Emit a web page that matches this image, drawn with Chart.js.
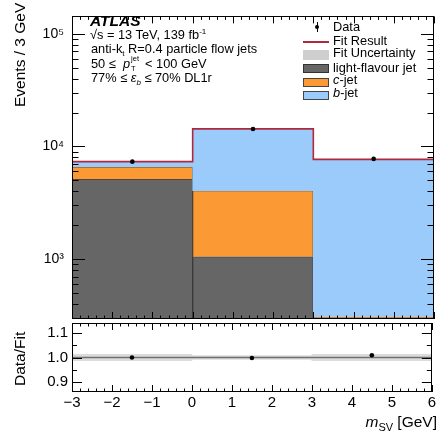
<!DOCTYPE html>
<html><head><meta charset="utf-8">
<script src="https://cdn.jsdelivr.net/npm/chart.js@4.4.0/dist/chart.umd.min.js"></script>
<style>
html,body{margin:0;padding:0;background:#fff;}
#wrap{position:relative;width:438px;height:431px;overflow:hidden;font-family:'Liberation Sans',Arial,sans-serif;color:#000;}
canvas{position:absolute;left:0;top:0;}
.t{position:absolute;white-space:nowrap;font-size:12.8px;line-height:14px;}
sup,sub{font-size:8px;line-height:0;position:relative;vertical-align:baseline;}
sup{top:-5px;} sub{top:3px;}
.ss{display:inline-block;position:relative;width:15px;height:10px;}
.ss span{position:absolute;left:1px;font-size:7.5px;line-height:8px;}
.yt{position:absolute;writing-mode:vertical-rl;transform:rotate(180deg);font-size:15.5px;line-height:18px;width:18px;white-space:nowrap;text-align:end;}
.box{position:absolute;left:303px;width:26px;box-sizing:border-box;}
</style></head>
<body><div id="wrap">
<canvas id="main" width="438" height="431"></canvas>
<canvas id="ratio" width="438" height="431"></canvas>

<div class="t" style="left:90px;top:13px;font:italic bold 15.5px/16px 'Liberation Sans',Arial,sans-serif;">ATLAS</div>
<div class="t" style="left:90px;top:28px;">√s = 13 TeV, 139 fb<sup>-1</sup></div>
<div class="t" style="left:91px;top:42px;">anti-k<sub>t</sub> R=0.4 particle flow jets</div>
<div class="t" style="left:91px;top:56.5px;">50 ≤ &nbsp;<i>p</i><span class="ss"><span style="top:-3px">jet</span><span style="top:7px">T</span></span>&lt; 100 GeV</div>
<div class="t" style="left:91px;top:71px;">77% ≤ <i>ε</i><sub><i>b</i></sub> ≤ 70% DL1r</div>

<div style="position:absolute;left:316.5px;top:22px;width:1px;height:10px;background:#000"></div>
<div style="position:absolute;left:315px;top:25px;width:4px;height:4px;border-radius:2px;background:#000"></div>
<div class="t" style="left:333px;top:20px;">Data</div>
<div style="position:absolute;left:303px;top:41px;width:26px;height:1.6px;background:#b0283c"></div>
<div class="t" style="left:333px;top:34px;">Fit Result</div>
<div class="box" style="top:50px;height:10px;background:#cfcfcf"></div>
<div class="t" style="left:333px;top:46.3px;">Fit Uncertainty</div>
<div class="box" style="top:64px;height:9px;background:#666;border:1px solid #333"></div>
<div class="t" style="left:333px;top:60.7px;">light-flavour jet</div>
<div class="box" style="top:77.5px;height:9px;background:#fb9a35;border:1px solid #444"></div>
<div class="t" style="left:333px;top:73px;"><i>c</i>-jet</div>
<div class="box" style="top:91px;height:9px;background:#9acbfb;border:1px solid #444"></div>
<div class="t" style="left:333px;top:86.3px;"><i>b</i>-jet</div>

<div class="yt" style="left:11px;top:3px;height:108px;">Events / 3 GeV</div>
<div class="yt" style="left:11px;top:323px;height:72px;text-align:center;">Data/Fit</div>
<div style="position:absolute;right:1px;top:413px;font-size:15.5px;line-height:18px;white-space:nowrap;"><i>m</i><sub style="font-size:11px;top:4px">SV</sub> [GeV]</div>
</div>
<script>
// ---- data ----
const binEdges = [-3, 0, 3, 6];
const binCenters = [-1.5, 1.5, 4.5];
const lightJet = [5120, 1055, 250];
const cJet = [1490, 3010, 60];
const bJet = [730, 10265, 7380];
const fitResult = [7340, 14330, 7690];
const dataValues = [7340, 14300, 7760];
const ratioValues = [1.0, 0.998, 1.009];
const fitUncRel = [0.013, 0.008, 0.013];
// ---- tick labels ----
const xMajorTicks = [-3, -2, -1, 0, 1, 2, 3, 4, 5, 6];
const mainYMajorTicks = [1e3, 1e4, 1e5];
const ratioYMajorTicks = [0.9, 1.0, 1.1];

const FONT = "'Liberation Sans', Arial, sans-serif";
const SUP = {'3':'³','4':'⁴','5':'⁵'};

// minor tick positions
const xMinor = [];
for (let i = -15; i <= 30; i++) { if (i % 5 !== 0) xMinor.push(i / 5); }
const logMinor = [];
[100, 1000, 10000].forEach(d => { for (let k = 2; k <= 9; k++) logMinor.push(k * d); });
const ratioMinor = [0.95, 1.05];

const frameTicks = {
  id: 'frameTicks',
  afterDatasetsDraw(chart, args, o) {
    const {ctx, chartArea: a, scales} = chart;
    const xs = scales.x, ys = scales.y;
    const px = v => Math.round(v) + 0.5;
    ctx.save();
    ctx.strokeStyle = '#000'; ctx.lineWidth = 1;
    ctx.beginPath();
    const xt = xMajorTicks.map(v => [v, o.xMaj]).concat(xMinor.map(v => [v, o.xMin]));
    xt.forEach(([v, len]) => {
      const x = px(xs.getPixelForValue(v));
      if (x < a.left || x > a.right + 1) return;
      ctx.moveTo(x, a.bottom); ctx.lineTo(x, a.bottom - len);
      ctx.moveTo(x, a.top); ctx.lineTo(x, a.top + len);
    });
    const yt = o.yMajor.map(v => [v, o.yMaj]).concat(o.yMinor.map(v => [v, o.yMin]));
    yt.forEach(([v, len]) => {
      const y = px(ys.getPixelForValue(v));
      if (y < a.top || y > a.bottom) return;
      ctx.moveTo(a.left, y); ctx.lineTo(a.left + len, y);
      ctx.moveTo(a.right, y); ctx.lineTo(a.right - len, y);
    });
    ctx.stroke();
    ctx.strokeRect(Math.round(a.left) + 0.5, Math.round(a.top) + 0.5,
                   Math.round(a.right - a.left) - 1, Math.round(a.bottom - a.top) - 1);
    ctx.restore();
  }
};

// hidden bin axis: its ticks are the bin edges so bars span a full bin
const binAxis = {type: 'linear', min: -3, max: 6, offset: false, display: false,
  afterBuildTicks(s) { s.ticks = binEdges.map(v => ({value: v})); }};
const barBase = {type: 'bar', xAxisID: 'xb', grouped: false, barPercentage: 1, categoryPercentage: 1};

new Chart(document.getElementById('main'), {
  type: 'bar',
  data: {datasets: [
    {type: 'scatter', label: 'Data', order: 0,
     data: binCenters.map((x, i) => ({x, y: dataValues[i]})),
     pointRadius: 2.3, pointBackgroundColor: '#000', pointBorderWidth: 0},
    {type: 'line', label: 'Fit Result', order: 1, stepped: 'before',
     data: binEdges.map((x, i) => ({x, y: fitResult[Math.min(i, fitResult.length - 1)]})),
     borderColor: '#b0283c', borderWidth: 1.6, pointRadius: 0, fill: false},
    Object.assign({label: 'b-jet', order: 2,
     data: binCenters.map((x, i) => ({x, y: [lightJet[i] + cJet[i], lightJet[i] + cJet[i] + bJet[i]]})),
     backgroundColor: '#9acbfb', borderWidth: 0}, barBase),
    Object.assign({label: 'c-jet', order: 3,
     data: binCenters.map((x, i) => ({x, y: [lightJet[i], lightJet[i] + cJet[i]]})),
     backgroundColor: '#fb9a35', borderColor: '#5a4632', borderWidth: 1}, barBase),
    Object.assign({label: 'light-flavour jet', order: 4,
     data: binCenters.map((x, i) => ({x, y: [1, lightJet[i]]})),
     backgroundColor: '#666666', borderColor: '#3a3a3a', borderWidth: 1}, barBase)
  ]},
  options: {
    responsive: false, animation: false, devicePixelRatio: 1,
    layout: {padding: {left: 0, right: 1, top: 5, bottom: 112}},
    plugins: {legend: {display: false}, tooltip: {enabled: false},
      frameTicks: {xMaj: 7, xMin: 3.5, yMaj: 13, yMin: 6.5, yMajor: mainYMajorTicks, yMinor: logMinor}},
    scales: {
      x: {type: 'linear', min: -3, max: 6, offset: false, display: false},
      xb: binAxis,
      y: {type: 'logarithmic', min: 295, max: 142500,
          afterFit(s) { s.width = 72; },
          afterBuildTicks(s) { s.ticks = mainYMajorTicks.map(v => ({value: v})); },
          ticks: {callback: v => '10' + SUP[String(Math.round(Math.log10(v)))],
                  font: {family: FONT, size: 14}, color: '#000', padding: 8},
          grid: {display: false, drawTicks: false}, border: {display: false}}
    }
  },
  plugins: [frameTicks]
});

new Chart(document.getElementById('ratio'), {
  type: 'bar',
  data: {datasets: [
    {type: 'scatter', label: 'Data', order: 0,
     data: binCenters.map((x, i) => ({x, y: ratioValues[i]})),
     pointRadius: 2.3, pointBackgroundColor: '#000', pointBorderWidth: 0},
    {type: 'line', label: 'Fit', order: 1,
     data: [binEdges[0], binEdges[binEdges.length - 1]].map(x => ({x, y: 1})),
     borderColor: '#707070', borderWidth: 1.6, pointRadius: 0, fill: false},
    Object.assign({label: 'Fit Uncertainty', order: 2,
     data: binCenters.map((x, i) => ({x, y: [1 - fitUncRel[i], 1 + fitUncRel[i]]})),
     backgroundColor: '#dcdcdc', borderWidth: 0}, barBase)
  ]},
  options: {
    responsive: false, animation: false, devicePixelRatio: 1,
    layout: {padding: {left: 0, right: 1, top: 323, bottom: 17}},
    plugins: {legend: {display: false}, tooltip: {enabled: false},
      frameTicks: {xMaj: 7, xMin: 3.5, yMaj: 10, yMin: 5, yMajor: ratioYMajorTicks, yMinor: ratioMinor}},
    scales: {
      x: {type: 'linear', min: -3, max: 6, offset: false,
          afterFit(s) { s.height = 22; },
          afterBuildTicks(s) { s.ticks = xMajorTicks.map(v => ({value: v})); },
          ticks: {callback: v => String(v).replace('-', '\u2212'), autoSkip: false, maxRotation: 0,
                  font: {family: FONT, size: 15}, color: '#000', padding: 2},
          grid: {display: false, drawTicks: false}, border: {display: false}},
      xb: binAxis,
      y: {type: 'linear', min: 0.86, max: 1.14,
          afterFit(s) { s.width = 72; },
          afterBuildTicks(s) { s.ticks = ratioYMajorTicks.map(v => ({value: v})); },
          ticks: {callback: v => v.toFixed(1), font: {family: FONT, size: 15}, color: '#000', padding: 4},
          grid: {display: false, drawTicks: false}, border: {display: false}}
    }
  },
  plugins: [frameTicks]
});
</script>
</body></html>
